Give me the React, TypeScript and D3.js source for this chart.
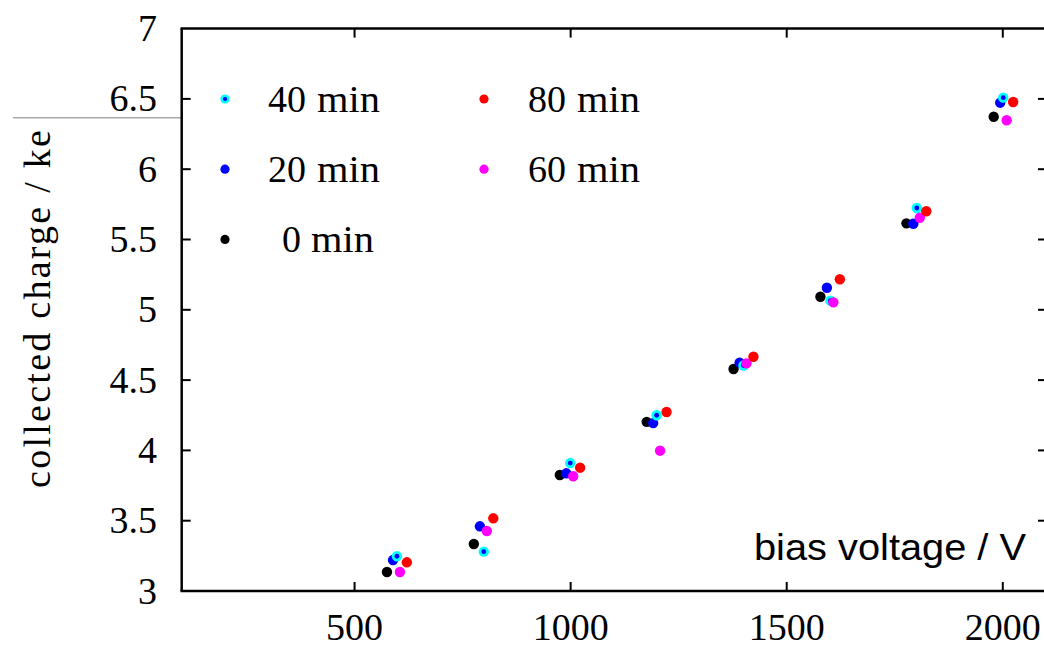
import React from "react";
import * as d3 from "d3";

// ---- data ----
const seriesNames = ["0 min", "20 min", "40 min", "60 min", "80 min"];
const seriesColors = ["#000000", "#0000ff", "#00ffff", "#ff00ff", "#ff0000"];

const volt0 = [575, 776, 975, 1176, 1377, 1578, 1777, 1979];
const charge0 = [3.135, 3.334, 3.825, 4.203, 4.579, 5.093, 5.615, 6.373];

const volt20 = [589, 790, 990, 1191, 1391, 1593, 1793, 1994];
const charge20 = [3.22, 3.46, 3.837, 4.194, 4.624, 5.157, 5.612, 6.473];

const volt40 = [598, 799, 999, 1199, 1400, 1601, 1801, 2001];
const charge40 = [3.247, 3.28, 3.91, 4.25, 4.604, 5.065, 5.724, 6.509];

const volt60 = [605, 806, 1006, 1207, 1407, 1608, 1808, 2009];
const charge60 = [3.135, 3.427, 3.816, 3.998, 4.619, 5.053, 5.655, 6.348];

const volt80 = [621, 821, 1022, 1222, 1423, 1623, 1823, 2024];
const charge80 = [3.204, 3.517, 3.877, 4.273, 4.666, 5.217, 5.701, 6.478];

const xTicks = [500, 1000, 1500, 2000];
const yTicks = [3, 3.5, 4, 4.5, 5, 5.5, 6, 6.5, 7];
const xDomain = [100, 2100];
const yDomain = [3, 7];

const xLabel = "bias voltage / V";
const yLabel = "collected charge / ke";

// legend layout: [seriesIndex, column, row]
const legendItems: [number, number, number][] = [
  [2, 0, 0],
  [1, 0, 1],
  [0, 0, 2],
  [4, 1, 0],
  [3, 1, 1],
];

const W = 1044;
const H = 649;
const serif = "'Liberation Serif', 'DejaVu Serif', serif";
const sans = "'Liberation Sans', Arial, sans-serif";

export default function App() {
  const left = 181.7;
  const right = 1046;
  const top = 28.6;
  const bottom = 591;
  const x = d3.scaleLinear().domain(xDomain).range([left, right]);
  const y = d3.scaleLinear().domain(yDomain).range([bottom, top]);

  const series = [
    { v: volt0, c: charge0 },
    { v: volt20, c: charge20 },
    { v: volt40, c: charge40 },
    { v: volt60, c: charge60 },
    { v: volt80, c: charge80 },
  ];

  const fs = 38;
  const fmt = d3.format("");

  return (
    <svg
      width={W}
      height={H}
      style={{ position: "absolute", left: 0, top: 0, background: "#fff" }}
    >
      <rect x={0} y={0} width={W} height={H} fill="#fff" />
      {/* gray line at left */}
      <line x1={13} x2={left} y1={117.7} y2={117.7} stroke="#aaaaaa" strokeWidth={1.5} />

      {/* frame */}
      <line x1={left} x2={left} y1={top} y2={bottom} stroke="#000" strokeWidth={2.5} />
      <line x1={left - 1.2} x2={W} y1={bottom} y2={bottom} stroke="#000" strokeWidth={2.5} />
      <line x1={left - 1.2} x2={W} y1={top} y2={top} stroke="#000" strokeWidth={2.5} />

      {/* x ticks */}
      {xTicks.map((t) => (
        <g key={"xt" + t}>
          <line x1={x(t)} x2={x(t)} y1={bottom} y2={bottom - 9} stroke="#000" strokeWidth={2} />
          <line x1={x(t)} x2={x(t)} y1={top} y2={top + 9} stroke="#000" strokeWidth={2} />
          <text
            x={x(t)}
            y={640}
            textAnchor="middle"
            fontFamily={serif}
            fontSize={fs}
            fill="#000"
          >
            {fmt(t)}
          </text>
        </g>
      ))}

      {/* y ticks */}
      {yTicks.map((t) => (
        <g key={"yt" + t}>
          {t > 3 && t < 7 && (
            <>
              <line x1={left} x2={left + 9} y1={y(t)} y2={y(t)} stroke="#000" strokeWidth={2} />
              <line x1={right - 8} x2={right} y1={y(t)} y2={y(t)} stroke="#000" strokeWidth={2} />
            </>
          )}
          <text
            x={157}
            y={y(t) + 12.5}
            textAnchor="end"
            fontFamily={serif}
            fontSize={fs}
            fill="#000"
          >
            {String(t)}
          </text>
        </g>
      ))}

      {/* clipped tick label from the panel below (cut off in the reference too) */}
      <text x={157} y={674} textAnchor="end" fontFamily={serif} fontSize={fs} fill="#000">
        7
      </text>

      {/* axis titles */}
      <text
        transform={`translate(50, 309) rotate(-90)`}
        textAnchor="middle"
        fontFamily={serif}
        fontSize={fs}
        textLength={358}
        lengthAdjust="spacing"
        fill="#000"
      >
        {yLabel}
      </text>
      <text
        x={1026}
        y={560}
        textAnchor="end"
        fontFamily={sans}
        fontSize={37}
        textLength={272}
        lengthAdjust="spacingAndGlyphs"
        fill="#000"
      >
        {xLabel}
      </text>

      {/* points */}
      {series.map((s, si) =>
        s.v.map((v, i) => (
          <g key={`p${si}-${i}`}>
            <circle cx={x(v)} cy={y(s.c[i])} r={5.2} fill={seriesColors[si]} />
            {si === 2 && <circle cx={x(v)} cy={y(s.c[i])} r={2.4} fill="#0000ff" />}
          </g>
        ))
      )}

      {/* legend */}
      {legendItems.map(([si, col, row]) => {
        const mx = col === 0 ? 225 : 484;
        const my = 99 + row * 70.2;
        const name = seriesNames[si];
        const [num, unit] = name.split(" ");
        const numX = col === 0 ? (num.length === 1 ? 282 : 268) : 528;
        return (
          <g key={"lg" + si}>
            <circle cx={mx} cy={my} r={4.6} fill={seriesColors[si]} />
            {si === 2 && <circle cx={mx} cy={my} r={2.1} fill="#0000ff" />}
            <text x={numX} y={my + 12.5} fontFamily={serif} fontSize={fs} fill="#000">
              {num}
            </text>
            <text
              x={numX + (num.length === 1 ? 20 : 40) + 9}
              y={my + 12.5}
              fontFamily={serif}
              fontSize={fs}
              textLength={63}
              lengthAdjust="spacingAndGlyphs"
              fill="#000"
            >
              {unit}
            </text>
          </g>
        );
      })}
    </svg>
  );
}
